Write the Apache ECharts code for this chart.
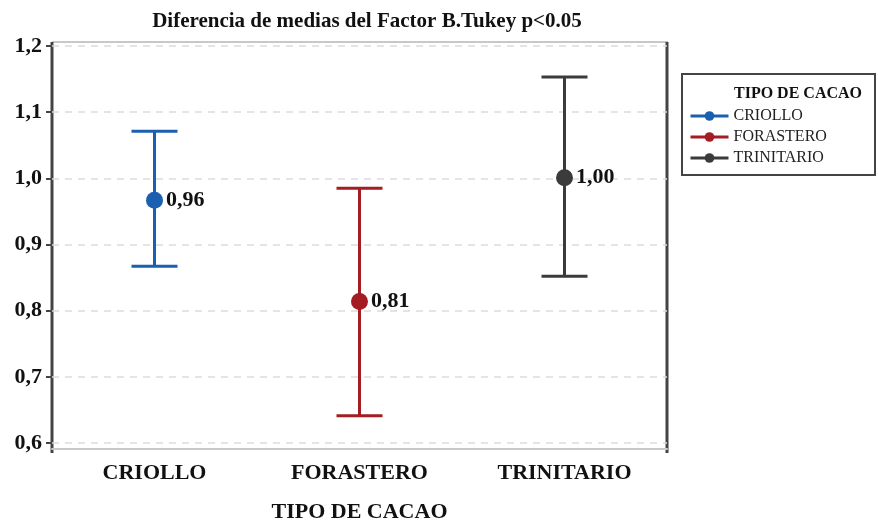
<!DOCTYPE html>
<html>
<head>
<meta charset="utf-8">
<script src="https://cdn.jsdelivr.net/npm/echarts@6/dist/echarts.min.js"></script>
<style>
  html, body { margin: 0; padding: 0; background: #fff; }
  #container { width: 878px; height: 528px; }
</style>
</head>
<body>
<div id="container"></div>
<script>
// datos
var categories = ['CRIOLLO', 'FORASTERO', 'TRINITARIO'];
var means = [0.967, 0.814, 1.001];
var upper = [1.071, 0.985, 1.153];
var lower = [0.867, 0.641, 0.852];
var meanLabels = ['0,96', '0,81', '1,00'];
var colors = ['#1a5fb0', '#a31d22', '#3b3b3b'];

var chart = echarts.init(document.getElementById('container'));
var serif = '"Liberation Serif", "DejaVu Serif", serif';

// una serie por tipo (solo su punto) para la leyenda y la etiqueta
var pointSeries = categories.map(function (c, i) {
    var d = categories.map(function (x, j) { return j === i ? means[i] : null; });
    return {
        name: c,
        type: 'line',
        data: d,
        symbol: 'circle',
        symbolSize: 17,
        z: 5,
        itemStyle: { color: colors[i] },
        lineStyle: { color: colors[i], width: 3 },
        label: {
            show: true,
            position: 'right',
            distance: 3,
            formatter: function () { return meanLabels[i]; },
            fontFamily: serif,
            fontWeight: 'bold',
            fontSize: 22,
            color: '#111'
        }
    };
});

// barras de error
var errSeries = {
    type: 'custom',
    z: 3,
    data: categories.map(function (c, i) { return [i, lower[i], upper[i]]; }),
    renderItem: function (params, api) {
        var i = api.value(0);
        var lo = api.coord([i, api.value(1)]);
        var hi = api.coord([i, api.value(2)]);
        var w = 23;
        var st = { stroke: colors[i], lineWidth: 3 };
        return {
            type: 'group',
            children: [
                { type: 'line', shape: { x1: hi[0], y1: hi[1], x2: lo[0], y2: lo[1] }, style: st },
                { type: 'line', shape: { x1: hi[0] - w, y1: hi[1], x2: hi[0] + w, y2: hi[1] }, style: st },
                { type: 'line', shape: { x1: lo[0] - w, y1: lo[1], x2: lo[0] + w, y2: lo[1] }, style: st }
            ]
        };
    }
};

option = {
    animation: false,
    title: {
        text: 'Diferencia de medias del Factor B.Tukey p<0.05',
        left: 362,
        textAlign: 'center',
        top: 6,
        textStyle: { fontFamily: serif, fontWeight: 'bold', fontSize: 21, color: '#111' }
    },
    grid: { left: 52, right: 211, top: 46, bottom: 83 },
    legend: {
        data: categories,
        orient: 'vertical',
        left: 684,
        top: 103,
        itemWidth: 38,
        itemHeight: 12,
        itemGap: 5,
        lineStyle: { width: 3 },
        textStyle: { fontFamily: serif, fontSize: 16, color: '#222' }
    },
    xAxis: {
        type: 'category',
        data: categories,
        offset: 6,
        axisLine: { lineStyle: { color: '#c8c8c8', width: 2 } },
        axisTick: { alignWithLabel: true, length: 5, lineStyle: { color: '#bbb' } },
        axisLabel: { fontFamily: serif, fontWeight: 'bold', fontSize: 22, color: '#111', margin: 13 },
        name: 'TIPO DE CACAO',
        nameLocation: 'middle',
        nameGap: 52,
        nameTextStyle: { fontFamily: serif, fontWeight: 'bold', fontSize: 22, color: '#111' }
    },
    yAxis: {
        type: 'value',
        min: 0.6,
        max: 1.2,
        interval: 0.1,
        axisLine: { show: false },
        axisTick: { show: true, length: 6, lineStyle: { color: '#444', width: 2 } },
        axisLabel: {
            fontFamily: serif, fontWeight: 'bold', fontSize: 22, color: '#111', margin: 10,
            formatter: function (v) { return v.toFixed(1).replace('.', ','); }
        },
        splitLine: { lineStyle: { color: '#dcdcdc', type: [7, 6], width: 1.5 } }
    },
    graphic: [
        { type: 'line', shape: { x1: 52, y1: 42, x2: 668, y2: 42 }, style: { stroke: '#c8c8c8', lineWidth: 2 } },
        { type: 'line', shape: { x1: 52, y1: 42, x2: 52, y2: 453 }, style: { stroke: '#444', lineWidth: 3 } },
        { type: 'line', shape: { x1: 667, y1: 42, x2: 667, y2: 453 }, style: { stroke: '#444', lineWidth: 3 } },
        { type: 'rect', shape: { x: 682, y: 74, width: 193, height: 101 }, style: { fill: '#fff', stroke: '#444', lineWidth: 2 }, z: -1 },
        { type: 'text', x: 734, y: 86, style: { text: 'TIPO DE CACAO', fontFamily: serif, fontWeight: 'bold', fontSize: 16, fill: '#111', align: 'left' } }
    ],
    series: pointSeries.concat([errSeries])
};

chart.setOption(option);
</script>
</body>
</html>
